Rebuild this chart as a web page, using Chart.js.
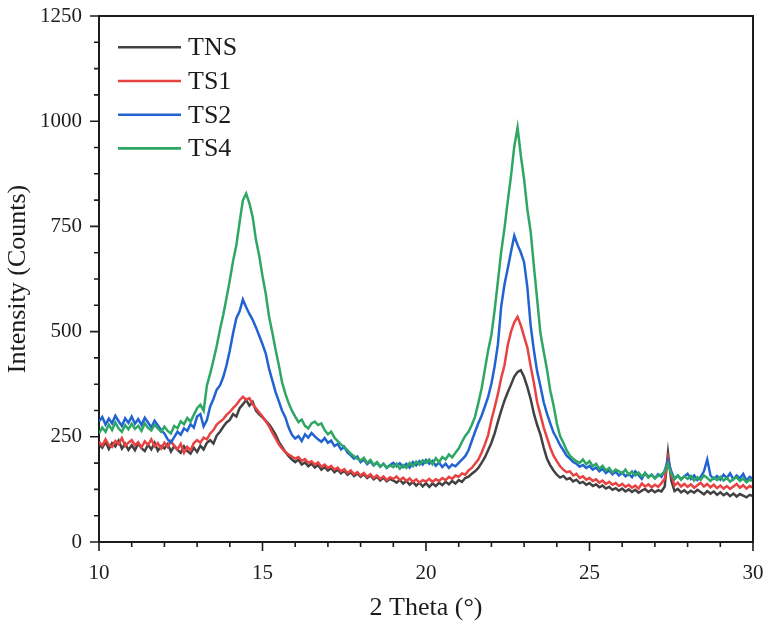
<!DOCTYPE html>
<html>
<head>
<meta charset="utf-8">
<title>XRD patterns</title>
<script src="https://cdn.jsdelivr.net/npm/chart.js@4.4.0/dist/chart.umd.min.js"></script>
<style>
  html, body { margin: 0; padding: 0; background: #fff; }
  #wrap { width: 774px; height: 633px; position: relative; }
</style>
</head>
<body>
<div id="wrap"><canvas id="xrdChart"></canvas></div>
<script>
'use strict';

// 2θ sampling: 10.0 .. 30.0 every 0.1°
const angleStart = 10;
const angleStep = 0.1;

const seriesNames = ['TNS', 'TS1', 'TS2', 'TS4'];
const seriesColors = ['#424242', '#e84242', '#2263d2', '#2ea764'];

const xTickValues = [10, 15, 20, 25, 30];
const yTickValues = [0, 250, 500, 750, 1000, 1250];

const tnsCounts = [
  232, 224, 238, 221, 235, 227, 241, 222, 233, 219,
  230, 218, 234, 223, 216, 231, 220, 236, 217, 228,
  222, 233, 215, 228, 219, 212, 227, 216, 210, 224,
  214, 229, 220, 236, 242, 234, 253, 262, 274, 284,
  290, 304, 298, 318, 327, 338, 324, 333, 312, 303,
  296, 288, 280, 268, 255, 238, 226, 214, 204, 196,
  190, 196, 184, 189, 180, 186, 177, 183, 172, 178,
  170, 176, 166, 172, 163, 169, 160, 166, 157, 163,
  155, 161, 152, 158, 149, 155, 146, 153, 144, 150,
  146, 141, 148, 139, 145, 136, 143, 134, 141, 132,
  140, 131, 139, 133, 141, 135, 143, 137, 145, 139,
  147, 143, 152, 155, 162, 168, 176, 188, 201, 218,
  236, 258, 286, 312, 336, 356, 374, 393, 404, 408,
  392, 368, 340, 305, 278, 255, 224, 198, 182, 170,
  160, 153, 157, 149, 152, 144, 148, 140, 143, 136,
  140, 133, 137, 130, 134, 127, 131, 124, 128, 122,
  127, 120, 125, 119, 124, 117, 122, 126, 119, 124,
  118, 123, 120, 132, 212, 146, 121, 126, 118, 123,
  116, 122, 117, 124, 119, 113, 121, 115, 120, 112,
  118, 111, 116, 109, 115, 108, 114, 110, 106, 112,
  109
];

const ts1Counts = [
  238, 229, 244, 231, 226, 240, 233, 247, 228, 236,
  242, 230, 237, 225, 239, 231, 244, 227, 235, 222,
  236, 226, 240, 229, 220, 233, 212, 226, 218, 235,
  242, 236, 248, 244, 258, 266, 279, 286, 292, 302,
  309, 318, 326, 337, 345, 338, 342, 327, 318, 308,
  298, 287, 275, 260, 246, 232, 222, 214, 208, 203,
  198, 202, 193, 197, 188, 192, 184, 189, 179, 184,
  176, 181, 172, 177, 168, 173, 164, 170, 161, 166,
  158, 164, 155, 161, 152, 158, 150, 156, 147, 154,
  150, 156, 147, 153, 145, 151, 143, 149, 141, 147,
  144, 150, 143, 149, 145, 152, 147, 155, 150, 158,
  155, 163, 160, 170, 176, 186, 196, 212, 232, 254,
  290, 320, 352, 390, 420, 468, 500, 522, 535, 515,
  488, 462, 418, 378, 332, 302, 272, 248, 224, 205,
  192, 180, 172, 166, 168, 158, 162, 152, 156, 148,
  152, 145, 149, 141, 146, 138, 143, 136, 140, 133,
  138, 131, 136, 129, 134, 127, 139, 132, 137, 130,
  136, 131, 140, 150, 200, 160, 134, 141, 132, 138,
  131, 137, 129, 135, 141, 132, 138, 130, 136, 128,
  134, 127, 133, 126, 132, 138, 129, 135, 127, 133,
  129
];

const ts2Counts = [
  286, 297, 279, 293, 282, 300, 287, 276, 294, 283,
  298, 281, 292, 278, 295, 284, 272, 288, 277, 266,
  258, 244, 236, 249, 262, 255, 270, 264, 280, 272,
  298, 304, 275, 290, 322, 340, 362, 372, 392, 420,
  455, 496, 532, 548, 576, 558, 542, 528, 510, 490,
  470, 448, 412, 384, 356, 334, 312, 296, 272, 255,
  246, 252, 240, 256, 248, 259, 251, 244, 238, 247,
  236, 241, 228, 233, 220, 226, 212, 206, 198, 203,
  190, 196, 185, 192, 182, 189, 179, 186, 176, 183,
  188, 180, 187, 178, 186, 177, 190, 182, 192, 184,
  195, 186, 193, 181, 189, 178, 186, 176, 184, 180,
  188, 196, 204, 218, 240, 262, 282, 300, 322, 345,
  376, 418, 470, 560, 612, 650, 690, 728, 706, 688,
  665, 605, 515, 455, 405, 370, 332, 305, 282, 260,
  246, 230, 218, 205, 198, 190, 186, 179, 183, 176,
  181, 172, 177, 168, 174, 164, 170, 161, 167, 158,
  165, 156, 162, 154, 168, 159, 150, 164, 155, 160,
  152, 161, 155, 170, 194, 168, 150, 158, 149, 156,
  162, 150, 158, 147, 155, 168, 196, 158, 150, 157,
  148, 160, 152, 163, 149, 158, 151, 162, 146, 155,
  150
];

const ts4Counts = [
  258, 272, 262, 279, 266, 284, 270, 262, 278, 268,
  281, 269, 276, 264, 282, 271, 265, 279, 270, 262,
  274, 264, 258, 276, 270, 287, 280, 295, 286, 302,
  318, 326, 312, 372, 400, 432, 466, 505, 540, 580,
  622, 668, 705, 760, 812, 828, 805, 772, 718, 680,
  632, 590, 536, 498, 457, 420, 379, 352, 330, 312,
  298, 285, 291, 276, 270, 282, 286, 278, 282, 266,
  256, 262, 248, 240, 232, 226, 218, 210, 204, 198,
  194, 200, 188, 195, 183, 190, 179, 186, 177, 182,
  178, 186, 174, 183, 176, 188, 180, 191, 184, 194,
  188, 196, 185, 199, 190, 202, 196, 208, 201, 212,
  222, 238, 252, 262, 278, 298, 330, 365, 410, 455,
  492, 552, 620, 690, 745, 810, 870, 940, 985, 918,
  862, 790, 738, 655, 576, 496, 452, 410, 360, 325,
  282, 252, 236, 218, 205, 198, 192, 188, 196, 185,
  192, 180, 186, 174, 181, 170, 176, 165, 172, 168,
  163, 172, 160, 168, 158, 165, 156, 163, 153, 160,
  151, 158, 160, 168, 186, 162, 150, 158, 148, 156,
  150, 157, 146, 154, 148, 158, 152, 145, 153, 147,
  155, 146, 152, 143, 150, 154, 145, 151, 142, 148,
  145
];

const allCounts = [tnsCounts, ts1Counts, ts2Counts, ts4Counts];

const serifFont = "'Liberation Serif', 'Times New Roman', serif";
const inkColor = '#1c1c1c';

function toPoints(counts) {
  return counts.map((y, i) => ({ x: +(angleStart + i * angleStep).toFixed(1), y }));
}

// top/right frame plus major and minor tick marks
const frameAndTicks = {
  id: 'frameAndTicks',
  afterDraw(chart) {
    const { ctx, chartArea } = chart;
    const xScale = chart.scales.x;
    const yScale = chart.scales.y;
    ctx.save();
    ctx.strokeStyle = inkColor;
    ctx.lineWidth = 2;
    ctx.beginPath();
    ctx.moveTo(chartArea.left, chartArea.top);
    ctx.lineTo(chartArea.right, chartArea.top);
    ctx.lineTo(chartArea.right, chartArea.bottom);
    ctx.stroke();

    ctx.lineWidth = 1.6;
    ctx.beginPath();
    for (let v = 10; v <= 30; v += 1) {
      const px = xScale.getPixelForValue(v);
      const len = v % 5 === 0 ? 9 : 5;
      ctx.moveTo(px, chartArea.bottom);
      ctx.lineTo(px, chartArea.bottom + len);
    }
    for (let v = 0; v <= 1250; v += 62.5) {
      const py = yScale.getPixelForValue(v);
      const len = v % 250 === 0 ? 9 : 5;
      ctx.moveTo(chartArea.left, py);
      ctx.lineTo(chartArea.left - len, py);
    }
    ctx.stroke();
    ctx.restore();
  },
};

// legend drawn inside the plot, upper left
const insetLegend = {
  id: 'insetLegend',
  afterDraw(chart) {
    const { ctx, chartArea } = chart;
    ctx.save();
    ctx.font = `26px ${serifFont}`;
    ctx.textBaseline = 'middle';
    ctx.textAlign = 'left';
    chart.data.datasets.forEach((ds, i) => {
      const y = chartArea.top + 31.3 + i * 33.7;
      ctx.strokeStyle = ds.borderColor;
      ctx.lineWidth = 2.6;
      ctx.beginPath();
      ctx.moveTo(chartArea.left + 19, y);
      ctx.lineTo(chartArea.left + 82, y);
      ctx.stroke();
      ctx.fillStyle = inkColor;
      ctx.fillText(ds.label, chartArea.left + 89, y + 1);
    });
    ctx.restore();
  },
};

const datasets = seriesNames.map((name, i) => ({
  label: name,
  data: toPoints(allCounts[i]),
  borderColor: seriesColors[i],
  backgroundColor: seriesColors[i],
  borderWidth: 2.5,
  pointRadius: 0,
  tension: 0,
  fill: false,
  order: seriesNames.length - 1 - i,
}));

new Chart(document.getElementById('xrdChart'), {
  type: 'line',
  data: { datasets },
  options: {
    responsive: true,
    maintainAspectRatio: false,
    animation: false,
    layout: { padding: { top: 16, right: 21, bottom: 0, left: 0 } },
    plugins: {
      legend: { display: false },
      tooltip: { enabled: false },
    },
    scales: {
      x: {
        type: 'linear',
        min: 10,
        max: 30,
        afterBuildTicks: (scale) => { scale.ticks = xTickValues.map((value) => ({ value })); },
        afterFit: (scale) => {
          scale.height = 91;
          scale.paddingLeft = 0;
          scale.paddingRight = 0;
        },
        grid: { display: false },
        border: { display: true, color: inkColor, width: 2 },
        ticks: {
          color: inkColor,
          font: { family: serifFont, size: 21 },
          padding: 11,
          maxRotation: 0,
          callback: (value) => String(value),
        },
        title: {
          display: true,
          text: '2 Theta (°)',
          color: inkColor,
          font: { family: serifFont, size: 26 },
          padding: { top: 4, bottom: 9 },
        },
      },
      y: {
        min: 0,
        max: 1250,
        afterBuildTicks: (scale) => { scale.ticks = yTickValues.map((value) => ({ value })); },
        afterFit: (scale) => {
          scale.width = 99;
          scale.paddingTop = 0;
          scale.paddingBottom = 0;
        },
        grid: { display: false },
        border: { display: true, color: inkColor, width: 2 },
        ticks: {
          color: inkColor,
          font: { family: serifFont, size: 21 },
          padding: 9,
          callback: (value) => String(value),
        },
        title: {
          display: true,
          text: 'Intensity (Counts)',
          color: inkColor,
          font: { family: serifFont, size: 26 },
          padding: { top: 3, bottom: 4 },
        },
      },
    },
  },
  plugins: [frameAndTicks, insetLegend],
});
</script>
</body>
</html>
